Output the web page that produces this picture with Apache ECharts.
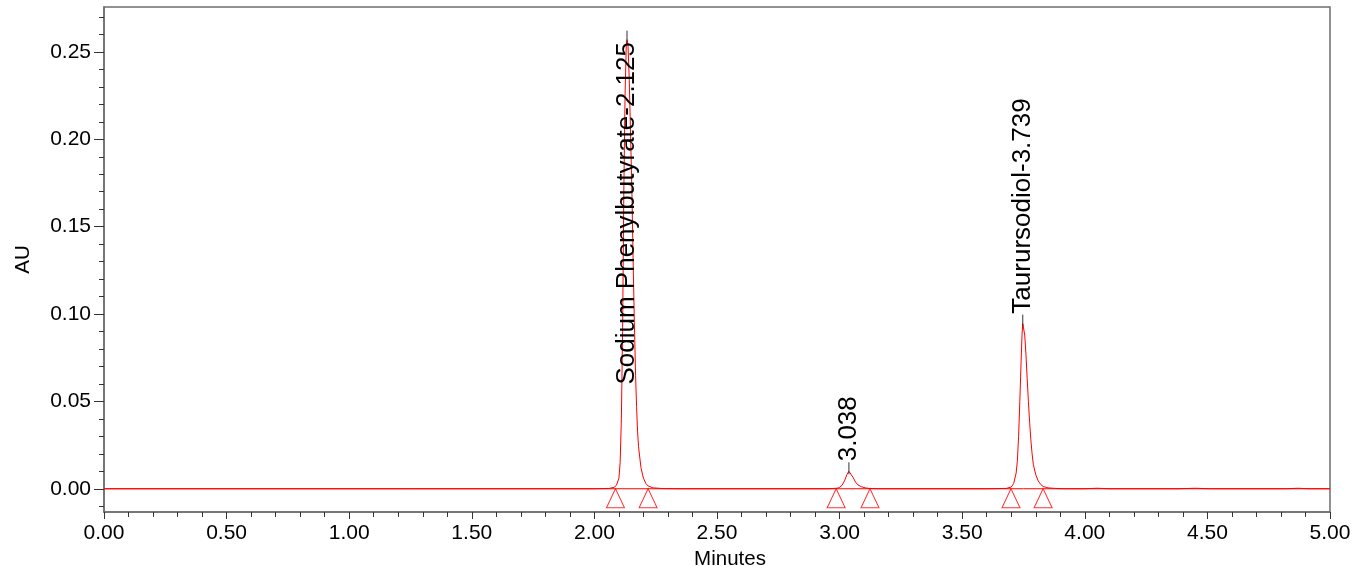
<!DOCTYPE html>
<html>
<head>
<meta charset="utf-8">
<script src="https://cdn.jsdelivr.net/npm/echarts@6/dist/echarts.min.js"></script>
<style>
html,body{margin:0;padding:0;background:#fff;}
#chart{width:1365px;height:566px;}
</style>
</head>
<body>
<div id="chart"></div>
<script>
// ---- data ----
const trace = [
  [0.00, 0], [2.00, 0], [2.06, 0.0002], [2.08, 0.0008], [2.09, 0.002], [2.10, 0.006],
  [2.105, 0.015], [2.11, 0.04], [2.115, 0.09], [2.12, 0.17], [2.125, 0.225], [2.13, 0.254],
  [2.133, 0.257], [2.137, 0.254], [2.142, 0.235], [2.148, 0.20], [2.153, 0.17], [2.158, 0.13],
  [2.163, 0.095], [2.168, 0.065], [2.172, 0.047], [2.176, 0.033], [2.18, 0.024], [2.19, 0.012],
  [2.20, 0.006], [2.21, 0.003], [2.22, 0.0015], [2.24, 0.0005], [2.28, 0.0001], [2.35, 0],
  [2.95, 0], [2.99, 0.0003], [3.00, 0.0008], [3.01, 0.002], [3.02, 0.0045], [3.03, 0.0082],
  [3.038, 0.0100], [3.046, 0.0092], [3.055, 0.0065], [3.065, 0.0038], [3.075, 0.0022],
  [3.09, 0.0011], [3.105, 0.0005], [3.12, 0.0002], [3.16, 0],
  [3.60, 0], [3.68, 0.0002], [3.70, 0.001], [3.71, 0.003], [3.72, 0.009], [3.725, 0.016],
  [3.73, 0.03], [3.735, 0.05], [3.74, 0.072], [3.744, 0.088], [3.747, 0.0945], [3.75, 0.094],
  [3.755, 0.088], [3.76, 0.077], [3.765, 0.063], [3.77, 0.05], [3.775, 0.038], [3.78, 0.028],
  [3.785, 0.02], [3.79, 0.014], [3.80, 0.008], [3.81, 0.0045], [3.82, 0.0025], [3.83, 0.0013],
  [3.85, 0.0005], [3.88, 0.0002], [3.92, 0],
  [4.00, 0], [4.05, 0.0003], [4.10, 0],
  [4.38, 0], [4.45, 0.0003], [4.51, 0],
  [4.82, 0], [4.87, 0.0003], [4.91, 0], [5.00, 0]
];
const baseline = [[0, 0], [5, 0]];
const peakNames = ['Sodium Phenylbutyrate-2.125', '3.038', 'Taurursodiol-3.739'];
const peakTimes = [2.133, 3.038, 3.747];
const peakHeights = [0.257, 0.0100, 0.0945];
const peakStarts = [2.086, 2.986, 3.699];
const peakEnds = [2.219, 3.124, 3.830];
const xTickLabels = [0, 0.5, 1, 1.5, 2, 2.5, 3, 3.5, 4, 4.5, 5];
const yTickLabels = [0, 0.05, 0.10, 0.15, 0.20, 0.25];
const yMinorTicks = [-0.01, 0, 0.01, 0.02, 0.03, 0.04, 0.05, 0.06, 0.07, 0.08, 0.09, 0.10,
  0.11, 0.12, 0.13, 0.14, 0.15, 0.16, 0.17, 0.18, 0.19, 0.20, 0.21, 0.22, 0.23, 0.24, 0.25,
  0.26, 0.27];
const xName = 'Minutes';
const yName = 'AU';

// ---- chart ----
const FONT = '"Liberation Sans", Arial, sans-serif';
const RED = '#ff0000';
const AXIS = '#6e6e6e';
const TICK = '#333333';
const Y_MIN = -0.0133, Y_MAX = 0.2757;
const LABEL_FONT_SIZE = 26;
const TICK_FONT_SIZE = 21;

const measureCtx = document.createElement('canvas').getContext('2d');
measureCtx.font = LABEL_FONT_SIZE + 'px ' + FONT;

const chart = echarts.init(document.getElementById('chart'), null, {renderer: 'canvas'});

const peakData = peakTimes.map((t, i) => [t, peakHeights[i]]);
const markerData = peakStarts.concat(peakEnds).map(t => [t, 0]);

chart.setOption({
  animation: false,
  backgroundColor: '#fff',
  grid: {left: 104, right: 35, top: 7, bottom: 54, containLabel: false, outerBoundsMode: 'none',
    show: true, borderColor: AXIS, borderWidth: 1.5, backgroundColor: 'transparent'},
  xAxis: {
    type: 'value', min: 0, max: 5, interval: 0.5,
    name: xName, nameLocation: 'middle', nameGap: 28,
    nameTextStyle: {fontFamily: FONT, fontSize: 20.5, color: '#000', padding: [0, 0, 0, 26]},
    axisLine: {onZero: false, lineStyle: {color: AXIS, width: 1.5}},
    axisTick: {show: true, length: 7, lineStyle: {color: TICK, width: 1}},
    minorTick: {show: true, splitNumber: 5, length: 5, lineStyle: {color: TICK, width: 1}},
    axisLabel: {fontFamily: FONT, fontSize: TICK_FONT_SIZE, color: '#000', margin: 11,
      customValues: xTickLabels, formatter: v => v.toFixed(2)},
    splitLine: {show: false}
  },
  yAxis: [{
    type: 'value', min: Y_MIN, max: Y_MAX,
    name: yName, nameLocation: 'middle', nameGap: 70, nameRotate: 90,
    nameTextStyle: {fontFamily: FONT, fontSize: 20.5, color: '#000'},
    axisLine: {onZero: false, lineStyle: {color: AXIS, width: 1.5}},
    axisTick: {show: true, length: 10, customValues: yTickLabels, lineStyle: {color: TICK, width: 1}},
    axisLabel: {fontFamily: FONT, fontSize: TICK_FONT_SIZE, color: '#000', margin: 13,
      customValues: yTickLabels, formatter: v => v.toFixed(2)},
    splitLine: {show: false}
  }, {
    type: 'value', min: Y_MIN, max: Y_MAX, position: 'left',
    axisLine: {show: false, onZero: false},
    axisTick: {show: true, length: 5, customValues: yMinorTicks, lineStyle: {color: TICK, width: 1}},
    axisLabel: {show: false},
    splitLine: {show: false}
  }],
  series: [
    {
      type: 'line', data: baseline, symbol: 'none', silent: true,
      lineStyle: {color: RED, width: 1}, z: 2
    },
    {
      type: 'line', data: trace, symbol: 'none', silent: true,
      lineStyle: {color: RED, width: 1}, z: 3
    },
    {
      type: 'scatter', data: markerData, symbol: 'triangle', symbolSize: [18, 19],
      symbolOffset: [0, '50%'], silent: true,
      itemStyle: {color: 'rgba(255,255,255,0)', borderColor: RED, borderWidth: 1}, z: 4
    },
    {
      type: 'custom', data: peakData, clip: false, silent: true, z: 5,
      renderItem: function (params, api) {
        const p = api.coord([api.value(0), api.value(1)]);
        const name = peakNames[params.dataIndex];
        const w = measureCtx.measureText(name).width;
        const top = params.coordSys.y;
        let bottom = p[1] - 10;
        if (bottom - w < top + 35) bottom = top + 35 + w;
        return {
          type: 'group',
          children: [
            {type: 'line', shape: {x1: p[0], y1: p[1] + 3, x2: p[0], y2: p[1] - 9},
              style: {stroke: TICK, lineWidth: 1}},
            {type: 'text', x: p[0], y: bottom, rotation: Math.PI / 2,
              style: {text: name, font: LABEL_FONT_SIZE + 'px ' + FONT, fill: '#000',
                align: 'left', verticalAlign: 'middle'}}
          ]
        };
      }
    }
  ]
});
</script>
</body>
</html>
